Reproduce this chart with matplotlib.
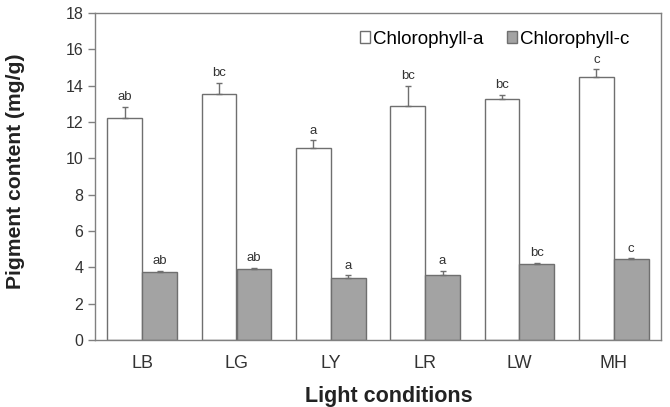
import matplotlib
matplotlib.use('Agg')
import matplotlib.pyplot as plt
import numpy as np

conditions = ['LB', 'LG', 'LY', 'LR', 'LW', 'MH']
chl_a = [12.2, 13.55, 10.55, 12.9, 13.25, 14.5]
chl_a_err = [0.65, 0.6, 0.45, 1.1, 0.25, 0.4]
chl_a_letters = ['ab', 'bc', 'a', 'bc', 'bc', 'c']
chl_c = [3.72, 3.9, 3.42, 3.6, 4.2, 4.46]
chl_c_err = [0.09, 0.06, 0.14, 0.2, 0.05, 0.04]
chl_c_letters = ['ab', 'ab', 'a', 'a', 'bc', 'c']

plt.rcParams['font.family'] = ['Liberation Sans', 'DejaVu Sans']

fig = plt.figure(figsize=(6.7, 4.07), dpi=100)
ax = fig.add_axes([95 / 670, 1 - 340 / 407, 566 / 670, 327 / 407])

x = np.arange(len(conditions))
w = 0.37
edge = '#6f6f6f'

ax.bar(x - w / 2, chl_a, w, color='white', edgecolor=edge, linewidth=1.0,
       yerr=[np.zeros(6), chl_a_err], ecolor=edge, capsize=2.5,
       error_kw={'elinewidth': 1.0, 'capthick': 1.0}, label='Chlorophyll-a')
ax.bar(x + w / 2, chl_c, w, color='#a3a3a3', edgecolor=edge, linewidth=1.0,
       yerr=[np.zeros(6), chl_c_err], ecolor=edge, capsize=2.5,
       error_kw={'elinewidth': 1.0, 'capthick': 1.0}, label='Chlorophyll-c')

# letras de significancia sobre cada barra
for i in range(len(conditions)):
    ax.text(x[i] - w / 2, chl_a[i] + chl_a_err[i] + 0.2, chl_a_letters[i],
            ha='center', va='bottom', fontsize=9.5, color='#333333')
    ax.text(x[i] + w / 2, chl_c[i] + chl_c_err[i] + 0.2, chl_c_letters[i],
            ha='center', va='bottom', fontsize=9.5, color='#333333')

ax.set_xlim(-0.5, 5.5)
ax.set_ylim(0, 18)
ax.set_yticks(range(0, 19, 2))
ax.set_xticks(x)
ax.set_xticklabels(conditions)
ax.tick_params(axis='x', length=0, pad=11, labelsize=13, colors='#333333')
ax.tick_params(axis='y', direction='out', length=5, width=1, color='#808080',
               labelsize=11.5, labelcolor='#333333')
for s in ax.spines.values():
    s.set_color('#808080')
    s.set_linewidth(1.0)

ax.set_ylabel('Pigment content (mg/g)', fontsize=15.2, fontweight='bold', color='#222222')
ax.yaxis.set_label_coords(-0.123, 0.515)
ax.set_xlabel('Light conditions', fontsize=15.5, fontweight='bold', color='#222222')
ax.xaxis.set_label_coords(0.5186, -0.141)

ax.legend(loc='center left', bbox_to_anchor=(0.468, 0.92), ncol=2, frameon=False,
          fontsize=13.5, handlelength=0.53, handleheight=0.53, handletextpad=0.16,
          columnspacing=1.28, borderpad=0, borderaxespad=0)

fig.savefig('out.png', dpi=100)
